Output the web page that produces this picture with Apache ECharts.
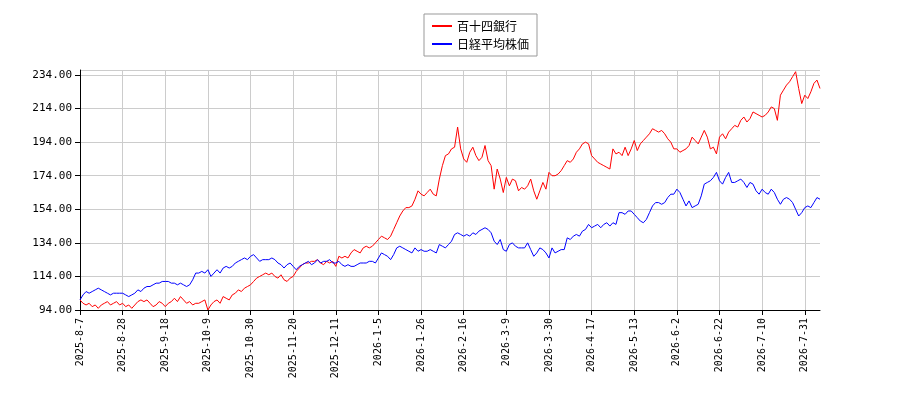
<!DOCTYPE html>
<html><head><meta charset="utf-8">
<script src="https://cdn.jsdelivr.net/npm/echarts@6/dist/echarts.min.js"></script>
<style>html,body{margin:0;background:#fff}#c{width:900px;height:400px}</style>
</head><body><div id="c"></div>
<script>
const seriesNames = ['百十四銀行', '日経平均株価'];
const startDate = '2025-08-07';
const tradingDays = 244;
const holidays = ['2025-08-11','2025-09-15','2025-09-23','2025-10-13','2025-11-03','2025-11-24','2025-12-31','2026-01-01','2026-01-02','2026-01-12','2026-02-11','2026-02-23','2026-03-20','2026-04-29','2026-05-04','2026-05-05','2026-05-06','2026-07-20'];
const bankValues = [
100,98,97,98,96,97,95,97,98,99,97,98,99,97,
98,96,97,95,97,99,100,99,100,98,96,97,99,98,
96,98,99,101,99,102,100,98,99,97,98,98,99,100,
94,97,99,100,98,102,101,100,103,104,106,105,107,108,
109,111,113,114,115,116,115,116,114,113,115,112,111,113,
114,117,119,121,122,122,123,123,124,122,121,123,122,123,
120,126,125,126,125,128,130,129,128,131,132,131,132,134,
136,138,137,136,138,142,146,150,153,155,155,156,160,165,
163,162,164,166,163,162,172,180,186,187,190,191,203,190,
184,182,188,191,186,183,185,192,183,180,166,178,172,164,
173,168,172,171,165,167,166,168,172,165,160,165,170,166,
176,174,174,175,177,180,183,182,184,188,190,193,194,193,
186,184,182,181,180,179,178,190,187,188,186,191,186,190,
195,189,193,195,197,199,202,201,200,201,199,196,194,190,
190,188,189,190,192,197,195,193,197,201,197,190,191,187,
197,199,196,200,202,204,203,207,209,206,208,212,211,210,
209,210,212,215,214,207,222,225,228,230,233,236,226,217,
222,220,224,229,231,226];
const nikkeiValues = [
100,103,105,104,105,106,107,106,105,104,103,104,104,104,
104,103,102,103,104,106,105,107,108,108,109,110,110,111,
111,111,110,110,109,110,109,108,109,112,116,116,117,116,
118,114,116,118,116,119,120,119,120,122,123,124,125,124,
126,127,125,123,124,124,124,125,124,122,121,119,121,122,
120,118,120,121,122,123,121,122,124,122,123,123,124,122,
122,123,121,120,121,120,120,121,122,122,122,123,123,122,
125,128,127,126,124,127,131,132,131,130,129,128,131,129,
130,129,129,130,129,128,133,132,131,133,135,139,140,139,
138,139,138,140,139,141,142,143,142,140,135,133,136,130,
129,133,134,132,131,131,131,134,130,126,128,131,130,128,
125,131,128,129,130,130,137,136,138,139,138,141,142,145,
143,144,145,143,145,146,144,146,145,152,152,151,153,153,
151,149,147,146,148,152,156,158,158,157,158,161,163,163,
166,164,160,156,159,155,156,157,162,169,170,171,173,176,
171,169,173,176,170,170,171,172,170,167,170,169,165,163,
166,164,163,166,164,160,157,160,161,160,158,154,150,152,
155,156,155,158,161,160];

const dates = [];
{
  let d = new Date(startDate + 'T00:00:00Z');
  while (dates.length < tradingDays) {
    const dow = d.getUTCDay();
    const iso = d.toISOString().slice(0, 10);
    if (dow !== 0 && dow !== 6 && !holidays.includes(iso)) {
      const [y, m, dd] = iso.split('-');
      dates.push(`${y}-${+m}-${+dd}`);
    }
    d = new Date(d.getTime() + 86400000);
  }
}
const showTick = (i) => i % 14 === 0;

const chart = echarts.init(document.getElementById('c'));
chart.setOption({
  animation: false,
  legend: {
    orient: 'vertical', left: 424, top: 14, padding: [6, 8],
    borderColor: '#999', borderWidth: 1, borderRadius: 0,
    itemWidth: 20, itemHeight: 2, itemGap: 6,
    textStyle: { fontSize: 12, color: '#000', fontFamily: 'Noto Sans CJK JP' },
    data: seriesNames.map(n => ({ name: n, icon: 'rect' }))
  },
  grid: { left: 80, right: 80, top: 70, bottom: 90 },
  xAxis: {
    type: 'category', data: dates, boundaryGap: false,
    axisLine: { lineStyle: { color: '#000' } },
    axisTick: { interval: (i) => showTick(i), lineStyle: { color: '#000' } },
    axisLabel: { interval: (i) => showTick(i), rotate: 90, fontSize: 10, color: '#000', fontFamily: 'DejaVu Sans Mono' },
    splitLine: { show: true, interval: (i) => showTick(i), lineStyle: { color: '#ccc' } }
  },
  yAxis: {
    type: 'value', min: 94, max: 237, interval: 20,
    axisLine: { show: true, lineStyle: { color: '#000' } },
    axisTick: { show: true, lineStyle: { color: '#000' } },
    axisLabel: { formatter: v => v.toFixed(2), fontSize: 11, color: '#000', fontFamily: 'DejaVu Sans Mono' },
    splitLine: { lineStyle: { color: '#ccc' } }
  },
  series: [
    { name: seriesNames[0], type: 'line', data: bankValues, showSymbol: false, lineStyle: { color: '#ff0000', width: 1 }, itemStyle: { color: '#ff0000' } },
    { name: seriesNames[1], type: 'line', data: nikkeiValues, showSymbol: false, lineStyle: { color: '#0000ff', width: 1 }, itemStyle: { color: '#0000ff' } }
  ]
});
</script></body></html>
